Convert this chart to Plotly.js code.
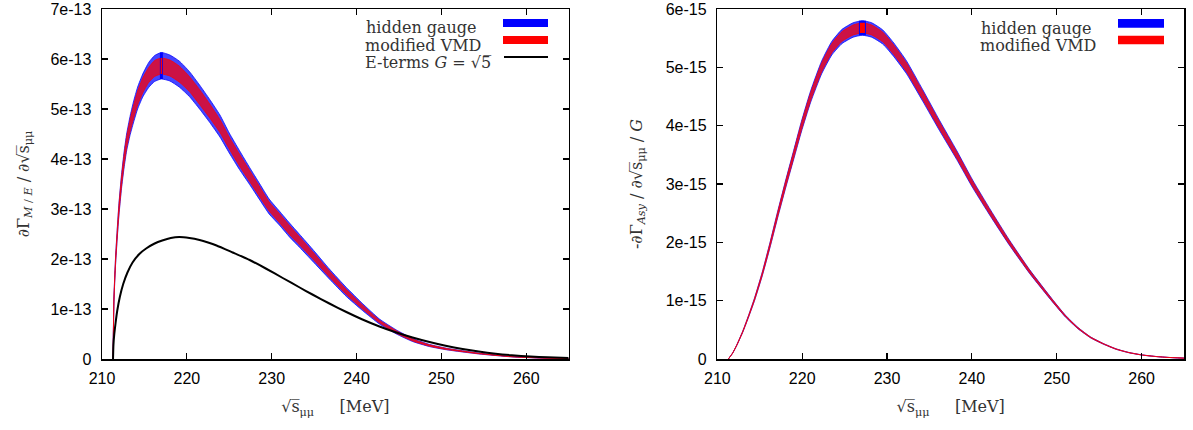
<!DOCTYPE html>
<html><head><meta charset="utf-8">
<script src="https://cdn.plot.ly/plotly-3.0.1.min.js"></script>
<style>html,body{margin:0;padding:0;background:#fff}</style>
</head><body><div id="chart" style="width:1193px;height:430px"></div>
<script>
// ---------- Left panel: dGamma_{M/E}/d sqrt(s)  (units of 1e-13) ----------
const UNIT_L = 1e-13;
const xL = [211.3, 211.4, 211.5, 211.6, 211.8, 212.0, 212.3, 212.6, 212.9, 213.3, 213.7, 214.2, 214.8, 215.5, 216.2, 217.0, 218.0, 219.1, 220.3, 221.5, 222.7, 223.9, 225.0, 226.2, 227.4, 228.6, 229.7, 230.9, 232.1, 233.3, 234.8, 236.8, 238.8, 240.7, 242.7, 244.7, 246.6, 248.6, 250.6, 254.4, 258.3, 261.5, 265.0];
const hgHiL = [0, 1.20, 1.66, 2.05, 2.62, 3.12, 3.69, 4.14, 4.50, 4.85, 5.14, 5.44, 5.70, 5.93, 6.07, 6.13, 6.08, 5.96, 5.75, 5.48, 5.19, 4.88, 4.52, 4.17, 3.83, 3.50, 3.20, 2.96, 2.72, 2.49, 2.20, 1.80, 1.43, 1.11, 0.80, 0.58, 0.41, 0.292, 0.216, 0.119, 0.050, 0.024, 0.009];
const hgLoL = [0, 1.10, 1.54, 1.89, 2.42, 2.88, 3.41, 3.82, 4.16, 4.47, 4.72, 5.00, 5.24, 5.43, 5.55, 5.60, 5.56, 5.44, 5.25, 5.00, 4.73, 4.44, 4.12, 3.79, 3.49, 3.18, 2.90, 2.68, 2.44, 2.23, 1.96, 1.60, 1.25, 0.97, 0.70, 0.50, 0.35, 0.248, 0.184, 0.101, 0.042, 0.020, 0.007];
const vmdHiL = [0, 1.18, 1.64, 2.02, 2.58, 3.08, 3.64, 4.08, 4.44, 4.78, 5.06, 5.36, 5.62, 5.83, 5.97, 6.02, 5.98, 5.86, 5.65, 5.39, 5.10, 4.79, 4.44, 4.10, 3.77, 3.44, 3.14, 2.91, 2.67, 2.44, 2.15, 1.76, 1.39, 1.08, 0.775, 0.565, 0.398, 0.283, 0.210, 0.115, 0.048, 0.023, 0.0085];
const vmdLoL = [0, 1.12, 1.56, 1.92, 2.46, 2.92, 3.46, 3.88, 4.22, 4.54, 4.80, 5.08, 5.32, 5.53, 5.65, 5.70, 5.66, 5.54, 5.35, 5.09, 4.82, 4.53, 4.20, 3.86, 3.55, 3.24, 2.96, 2.73, 2.49, 2.28, 2.01, 1.64, 1.29, 1.00, 0.725, 0.515, 0.362, 0.257, 0.190, 0.105, 0.044, 0.021, 0.0075];
const xE = [211.3, 211.35, 211.45, 211.6, 211.8, 212.1, 212.5, 213.0, 213.6, 214.4, 215.2, 216.2, 217.1, 218.1, 219.1, 220.3, 221.5, 222.5, 223.5, 225.4, 227.4, 229.3, 231.3, 233.3, 234.8, 236.8, 238.8, 240.7, 242.7, 244.7, 246.6, 248.6, 250.5, 252.5, 254.4, 256.4, 258.3, 260.5, 262.5, 265.0];
const eTerms = [0, 0.28, 0.50, 0.72, 0.97, 1.24, 1.50, 1.73, 1.93, 2.10, 2.21, 2.31, 2.37, 2.42, 2.44, 2.42, 2.38, 2.33, 2.27, 2.13, 1.98, 1.81, 1.62, 1.43, 1.29, 1.11, 0.94, 0.79, 0.65, 0.53, 0.43, 0.34, 0.265, 0.20, 0.15, 0.105, 0.075, 0.05, 0.033, 0.02];
const peakIdxL = 15;

// ---------- Right panel: -dGamma_Asy/d sqrt(s)/G  (units of 1e-15) ----------
const UNIT_R = 1e-15;
const xR = [211.3, 211.8, 212.3, 213.0, 213.7, 214.4, 215.3, 216.2, 217.1, 218.0, 219.0, 219.9, 221.0, 222.3, 223.5, 224.7, 226.0, 227.1, 228.2, 229.5, 230.8, 232.3, 234.2, 236.2, 238.2, 240.1, 242.2, 244.4, 246.8, 249.5, 251.0, 252.5, 254.0, 255.5, 257.0, 258.5, 260.0, 261.5, 263.0, 265.0];
const hgHiR = [0, 0.102, 0.245, 0.480, 0.756, 1.053, 1.492, 1.993, 2.524, 3.035, 3.577, 4.068, 4.599, 5.110, 5.447, 5.652, 5.764, 5.800, 5.764, 5.641, 5.417, 5.110, 4.619, 4.088, 3.577, 3.066, 2.555, 2.044, 1.533, 1.022, 0.756, 0.542, 0.378, 0.266, 0.174, 0.112, 0.072, 0.046, 0.0286, 0.0153];
const hgLoR = [0, 0.098, 0.235, 0.460, 0.724, 1.007, 1.428, 1.907, 2.416, 2.905, 3.423, 3.892, 4.401, 4.890, 5.213, 5.408, 5.516, 5.550, 5.516, 5.399, 5.183, 4.890, 4.421, 3.912, 3.423, 2.934, 2.445, 1.956, 1.467, 0.978, 0.724, 0.518, 0.362, 0.254, 0.166, 0.108, 0.068, 0.044, 0.0274, 0.0147];
const vmdHiR = [0, 0.1015, 0.244, 0.477, 0.751, 1.045, 1.482, 1.979, 2.507, 3.015, 3.553, 4.040, 4.568, 5.075, 5.410, 5.613, 5.725, 5.765, 5.725, 5.603, 5.380, 5.075, 4.588, 4.060, 3.553, 3.045, 2.538, 2.030, 1.523, 1.015, 0.751, 0.538, 0.376, 0.264, 0.173, 0.112, 0.071, 0.0457, 0.0284, 0.0152];
const vmdLoR = [0, 0.0985, 0.236, 0.463, 0.729, 1.015, 1.438, 1.921, 2.433, 2.925, 3.447, 3.920, 4.432, 4.925, 5.250, 5.447, 5.555, 5.590, 5.555, 5.437, 5.220, 4.925, 4.452, 3.940, 3.447, 2.955, 2.462, 1.970, 1.477, 0.985, 0.729, 0.522, 0.364, 0.256, 0.167, 0.108, 0.069, 0.0443, 0.0276, 0.0148];
const peakIdxR = 17;

// ---------- Axis ticks ----------
const xTicks = [210, 220, 230, 240, 250, 260];
const xTickText = ['210', '220', '230', '240', '250', '260'];
const yTicksL = [0, 1e-13, 2e-13, 3e-13, 4e-13, 5e-13, 6e-13, 7e-13];
const yTickTextL = ['0', '1e-13', '2e-13', '3e-13', '4e-13', '5e-13', '6e-13', '7e-13'];
const yTicksR = [0, 1e-15, 2e-15, 3e-15, 4e-15, 5e-15, 6e-15];
const yTickTextR = ['0', '1e-15', '2e-15', '3e-15', '4e-15', '5e-15', '6e-15'];

const legendLabels = ['hidden gauge', 'modified VMD', 'E-terms <i>G</i> = √5\u0305'];

// ---------- helpers ----------
const W = 1193, H = 430, ML = 102, MR = 9, MT = 9, MB = 71;
const PW = W - ML - MR, PH = H - MT - MB;
const px = p => (p - ML) / PW;
const py = p => (H - MB - p) / PH;
const sc = (arr, u) => arr.map(v => v * u);

const BLUE_FILL = 'rgba(0,0,255,0.73)';
const RED_FILL = 'rgba(255,0,0,0.73)';
const SM = 0.5;

function bandTraces(x, lo, hi, u, fill, xa, ya) {
  return [
    {x: x, y: sc(lo, u), mode: 'lines', line: {color: fill, width: 1, shape: 'spline', smoothing: SM}, xaxis: xa, yaxis: ya, showlegend: false, hoverinfo: 'skip'},
    {x: x, y: sc(hi, u), mode: 'lines', fill: 'tonexty', fillcolor: fill, line: {color: fill, width: 1, shape: 'spline', smoothing: SM}, xaxis: xa, yaxis: ya, showlegend: false, hoverinfo: 'skip'}
  ];
}
function bar(xv, lo, hi, u, color, w, xa, ya) {
  return {x: [xv, xv], y: [lo * u, hi * u], mode: 'lines', line: {color: color, width: w}, xaxis: xa, yaxis: ya, showlegend: false, hoverinfo: 'skip'};
}

const traces = [].concat(
  bandTraces(xL, hgLoL, hgHiL, UNIT_L, BLUE_FILL, 'x', 'y'),
  bandTraces(xL, vmdLoL, vmdHiL, UNIT_L, RED_FILL, 'x', 'y'),
  [bar(xL[peakIdxL], hgLoL[peakIdxL], hgHiL[peakIdxL], UNIT_L, '#0000ff', 3, 'x', 'y'),
   bar(xL[peakIdxL], vmdLoL[peakIdxL], vmdHiL[peakIdxL], UNIT_L, '#ff0000', 1.5, 'x', 'y'),
   {x: xE, y: sc(eTerms, UNIT_L), mode: 'lines', line: {color: '#000', width: 2, shape: 'spline', smoothing: SM}, xaxis: 'x', yaxis: 'y', showlegend: false, hoverinfo: 'skip'}],
  bandTraces(xR, hgLoR, hgHiR, UNIT_R, BLUE_FILL, 'x2', 'y2'),
  bandTraces(xR, vmdLoR, vmdHiR, UNIT_R, RED_FILL, 'x2', 'y2'),
  [bar(xR[peakIdxR], hgLoR[peakIdxR], hgHiR[peakIdxR], UNIT_R, '#0000ff', 7, 'x2', 'y2'),
   bar(xR[peakIdxR], vmdLoR[peakIdxR], vmdHiR[peakIdxR], UNIT_R, '#ff0000', 5, 'x2', 'y2')]
);

const tickFont = {family: '"Liberation Sans", Arial, sans-serif', size: 16, color: '#000'};
const serif = {family: '"DejaVu Serif", serif', size: 16, color: '#333'};
const sqrtS = '√s\u0305<sub>μμ</sub>';
const NB = '\u00a0';

function xAxis(domain, anchor) {
  return {domain: domain, anchor: anchor, range: [210, 265], tickvals: xTicks, ticktext: xTickText,
    ticks: 'inside', ticklen: 6, tickwidth: 1.2, tickcolor: '#000', mirror: 'ticks', showline: true, linecolor: '#000', linewidth: 1.5,
    showgrid: false, zeroline: false, tickfont: tickFont, ticklabelstandoff: 4,
    title: {text: sqrtS + NB.repeat(5) + '[MeV]', font: serif, standoff: 15}};
}
function yAxis(range, tv, tt, anchor, title, standoff) {
  return {range: range, anchor: anchor, domain: [0, 1], tickvals: tv, ticktext: tt,
    ticks: 'inside', ticklen: 6, tickwidth: 1.2, tickcolor: '#000', mirror: 'ticks', showline: true, linecolor: '#000', linewidth: 1.5,
    showgrid: false, zeroline: false, tickfont: tickFont, ticklabelstandoff: 6,
    title: {text: title, font: serif, standoff: standoff}};
}

const shapes = [
  {type: 'rect', xref: 'paper', yref: 'paper', x0: px(503), x1: px(548), y0: py(27), y1: py(19), fillcolor: '#0000ff', line: {width: 0}},
  {type: 'rect', xref: 'paper', yref: 'paper', x0: px(503), x1: px(548), y0: py(44), y1: py(36), fillcolor: '#ff0000', line: {width: 0}},
  {type: 'line', xref: 'paper', yref: 'paper', x0: px(504), x1: px(548), y0: py(57), y1: py(57), line: {color: '#000', width: 2}},
  {type: 'rect', xref: 'paper', yref: 'paper', x0: px(1118), x1: px(1164), y0: py(27.7), y1: py(19), fillcolor: '#0000ff', line: {width: 0}},
  {type: 'rect', xref: 'paper', yref: 'paper', x0: px(1118), x1: px(1164), y0: py(44.3), y1: py(35.7), fillcolor: '#ff0000', line: {width: 0}}
];
function leg(text, cx, cy) {
  return {text: text, xref: 'paper', yref: 'paper', x: px(cx), y: py(cy), xanchor: 'center', yanchor: 'middle', showarrow: false, font: serif};
}
const annotations = [
  leg(legendLabels[0], 421.5, 28), leg(legendLabels[1], 423, 45.5), leg(legendLabels[2], 427.5, 63),
  leg(legendLabels[0], 1036.7, 28.3), leg(legendLabels[1], 1038, 45.7)
];

const layout = {
  width: W, height: H, margin: {l: ML, r: MR, t: MT, b: MB}, paper_bgcolor: '#fff', plot_bgcolor: '#fff',
  showlegend: false,
  xaxis: xAxis([0, 0.4313], 'y'),
  yaxis: yAxis([0, 7e-13], yTicksL, yTickTextL, 'x', NB.repeat(3) + '∂Γ<sub><i>M</i> / <i>E</i></sub> / ∂' + sqrtS, 17),
  xaxis2: xAxis([0.5687, 1], 'y2'),
  yaxis2: yAxis([0, 6e-15], yTicksR, yTickTextR, 'x2', '-∂Γ<sub><i>Asy</i></sub> / ∂' + sqrtS + ' / <i>G</i>', 19),
  shapes: shapes, annotations: annotations
};

Plotly.newPlot('chart', traces, layout, {staticPlot: true, displayModeBar: false});
</script></body></html>
